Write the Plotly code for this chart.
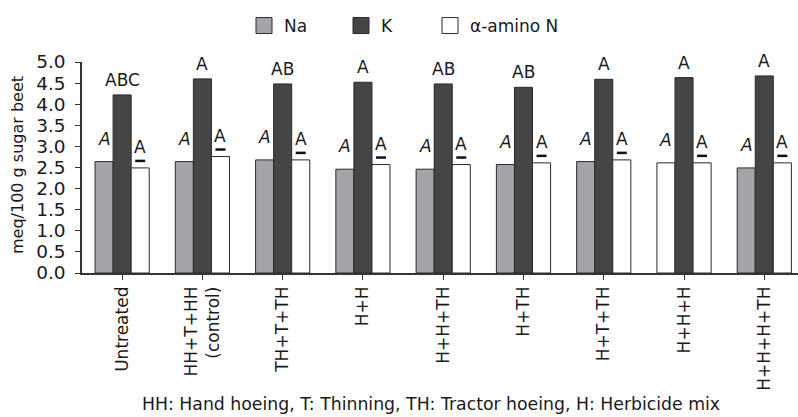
import plotly.graph_objects as go

categories = ["Untreated", "HH+T+HH<br>(control)", "TH+T+TH", "H+H", "H+H+TH",
              "H+TH", "H+T+TH", "H+H+H", "H+H+H+TH"]
na_values = [2.64, 2.64, 2.68, 2.46, 2.46, 2.57, 2.64, 2.61, 2.49]
k_values = [4.22, 4.60, 4.48, 4.52, 4.48, 4.40, 4.59, 4.63, 4.67]
n_values = [2.49, 2.76, 2.68, 2.57, 2.57, 2.61, 2.68, 2.61, 2.61]
na_letters = ["A"] * 9
k_letters = ["ABC", "A", "AB", "A", "AB", "AB", "A", "A", "A"]
n_letters = ["A"] * 9
series_names = ["Na", "K", "\u03b1-amino N"]

NA_COLOR = "#a3a4a7"
K_COLOR = "#434547"
N_COLOR = "#ffffff"
EDGE = "#2a2a2a"
FONT = "DejaVu Sans"
TXT = "#1a1a1a"
series_colors = [NA_COLOR, K_COLOR, N_COLOR]
legend_widths = [52, 44, 120]

na_fill = [NA_COLOR] * len(categories)
na_fill[7] = "#ffffff"  # as drawn in the reference

BARGAP = 0.325
bw = (1 - BARGAP) / 3
idx = list(range(len(categories)))

PL, PR, PT, PB = 82, 798, 62, 273  # plot area in pixels

fig = go.Figure()
for vals, fill in [(na_values, na_fill), (k_values, K_COLOR), (n_values, N_COLOR)]:
    fig.add_trace(go.Bar(x=idx, y=vals, showlegend=False,
                         marker=dict(color=fill, line=dict(color=EDGE, width=1))))
# legend entries with larger square swatches
for name, col, lw in zip(series_names, series_colors, legend_widths):
    fig.add_trace(go.Scatter(x=[None], y=[None], mode="markers", name=name,
                             legendwidth=lw,
                             marker=dict(symbol="square", size=18, color=col,
                                         line=dict(color=EDGE, width=1))))

annotations = []
shapes = []
for i in idx:
    annotations.append(dict(x=i - bw, y=na_values[i], xref="x", yref="y",
                            text="<i>" + na_letters[i] + "</i>", showarrow=False,
                            yanchor="bottom", yshift=11,
                            font=dict(family=FONT, size=17, color=TXT)))
    annotations.append(dict(x=i, y=k_values[i], xref="x", yref="y",
                            text=k_letters[i], showarrow=False,
                            yanchor="bottom", yshift=3,
                            font=dict(family=FONT, size=17, color=TXT)))
    annotations.append(dict(x=i + bw, y=n_values[i], xref="x", yref="y",
                            text=n_letters[i], showarrow=False,
                            yanchor="bottom", yshift=9,
                            font=dict(family=FONT, size=17, color=TXT)))
    shapes.append(dict(type="line", xref="x", yref="y",
                       xsizemode="pixel", xanchor=i + bw, x0=-5, x1=5,
                       ysizemode="pixel", yanchor=n_values[i], y0=7, y1=7,
                       line=dict(color="#111111", width=2.5)))

annotations.append(dict(x=(431 - PL) / (PR - PL), y=-(404 - PB) / (PB - PT),
                        xref="paper", yref="paper", xanchor="center", yanchor="middle",
                        showarrow=False,
                        text="HH: Hand hoeing, T: Thinning, TH: Tractor hoeing, H: Herbicide mix",
                        font=dict(family=FONT, size=17.3, color=TXT)))
annotations.append(dict(x=(17 - PL) / (PR - PL), y=(PB - 165) / (PB - PT),
                        xref="paper", yref="paper", xanchor="center", yanchor="middle",
                        showarrow=False, textangle=-90,
                        text="meq/100 g sugar beet",
                        font=dict(family=FONT, size=16, color=TXT)))

fig.update_layout(
    width=798, height=417,
    margin=dict(l=PL, r=798 - PR, t=PT, b=417 - PB, autoexpand=False),
    paper_bgcolor="white", plot_bgcolor="white",
    barmode="group", bargap=BARGAP, bargroupgap=0,
    font=dict(family=FONT, color=TXT),
    legend=dict(orientation="h", xref="container", yref="container",
                x=244 / 798, xanchor="left", y=1 - 26 / 417, yanchor="middle",
                font=dict(family=FONT, size=17, color=TXT),
                traceorder="normal", itemsizing="trace"),
    annotations=annotations, shapes=shapes,
)
fig.update_xaxes(
    tickmode="array", tickvals=idx, ticktext=categories, tickangle=-90,
    range=[-0.5, 8.42], showline=True, linecolor="#333333", linewidth=1.5,
    ticks="outside", ticklen=5, tickcolor="#333333", tickson="boundaries",
    showgrid=False, zeroline=False, automargin=False,
    tickfont=dict(family=FONT, size=17, color=TXT),
)
fig.update_yaxes(
    range=[0, 5], dtick=0.5, tickformat=".1f", showline=True, linecolor="#333333",
    linewidth=1.5, ticks="outside", ticklen=5, tickcolor="#333333",
    showgrid=False, zeroline=False, automargin=False, ticklabelstandoff=6,
    tickfont=dict(family=FONT, size=18.5, color=TXT),
)

fig.write_html("out.html", config={"displayModeBar": False},
               post_script="document.body.style.margin='0';document.body.style.overflow='hidden';")
